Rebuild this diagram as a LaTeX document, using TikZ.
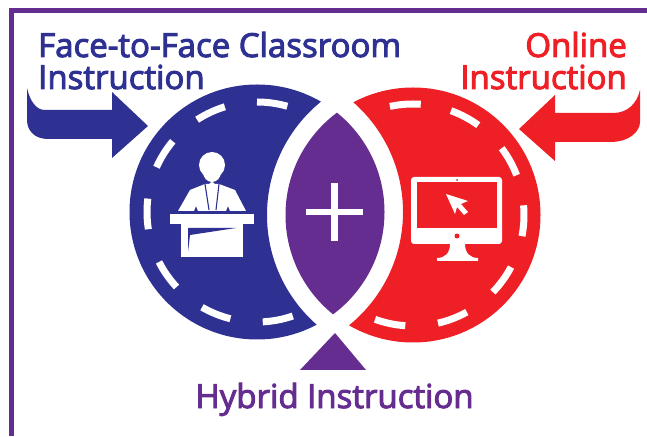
\documentclass[tikz,border=0pt]{standalone}
\usepackage{fontspec}
\newfontfamily\labelfont[FakeBold=3]{Open Sans}
\definecolor{faceblue}{HTML}{2E3192}
\definecolor{onlinered}{HTML}{EF1F26}
\definecolor{hybridpurple}{HTML}{662D91}
\tikzset{
  label text/.style={font=\labelfont\fontsize{33}{33}\selectfont, inner sep=0pt},
  dash arc/.style={draw=white, line width=7pt},
}
\begin{document}
\begin{tikzpicture}[x=1pt, y=1pt]
  \useasboundingbox (0,0) rectangle (647,436);

  % centres
  \coordinate (fc) at (257,224);
  \coordinate (oc) at (413,221);

  % frame
  \draw[hybridpurple, line width=5.5pt] (11.7,0) -- (11.7,425.3) -- (647,425.3);

  % discs
  \begin{scope}[even odd rule]
    \clip (0,0) rectangle (647,436) (oc) circle (146pt);
    \fill[faceblue] (fc) circle (127.5pt);
  \end{scope}
  \begin{scope}[even odd rule]
    \clip (0,0) rectangle (647,436) (fc) circle (146pt);
    \fill[onlinered] (oc) circle (127.5pt);
  \end{scope}
  \begin{scope}
    \clip (fc) circle (127.5pt);
    \fill[hybridpurple] (oc) circle (127.5pt);
  \end{scope}

  % dashes
  \foreach \a in {74,107,140,173,207,240,273}
    \draw[dash arc, shift={(fc)}] (\a:110pt) arc[start angle=\a, delta angle=16, radius=110pt];
  \foreach \a in {86,54,21,-11,-44,-77,-110}
    \draw[dash arc, shift={(oc)}] (\a:111pt) arc[start angle=\a, delta angle=16, radius=111pt];

  % plus
  \fill[white] (306,221) rectangle (363,227);
  \fill[white] (331,195) rectangle (338,253);

  % arrows
  \fill[faceblue] (27,348) .. controls (30,335) and (36,326) .. (45,326) -- (112,326) -- (112,344)
    -- (148,310) -- (112,278) -- (112,297) -- (48,297) .. controls (35,297) and (27,305) .. (27,316) -- cycle;
  \fill[onlinered] (640,346) .. controls (637,333) and (628,323) .. (613,323) -- (555,323) -- (555,341)
    -- (519,307) -- (555,275) -- (555,294) -- (610,294) .. controls (630,294) and (640,305) .. (640,314) -- cycle;
  \fill[hybridpurple] (335,103) -- (366,66) -- (300,66) -- cycle;

  % lecturer
  \fill[white] (212,271) circle (13pt);
  \fill[white] (212,264) ellipse (9pt and 10pt);
  \fill[white] (212,251) circle (3pt);
  \fill[white] (178,225) -- (190,246) -- (205,252) -- (219,252) -- (235,246) -- (246,225)
    -- (230,225) -- (228,230) -- (226,225) -- (198,225) -- (196,230) -- (194,225) -- cycle;
  \draw[faceblue, line width=1.1pt] (205,252) -- (209,226) (219,252) -- (216,226);
  \fill[white] (170,212) rectangle (254,222);
  \fill[white] (181,179) rectangle (243,212);
  \fill[faceblue] (188,208) -- (236,208) -- (190,201) -- (188,184) -- cycle;

  % monitor
  \fill[white, rounded corners=3pt] (411,192) rectangle (502,259);
  \fill[onlinered] (417,208) rectangle (497,254);
  \fill[onlinered] (457,256) circle (1pt);
  \fill[onlinered] (457,200) circle (2.5pt);
  \fill[white] (450,192) .. controls (450,183) and (445,178) .. (437,178) -- (437,175) -- (478,175) -- (478,178)
    .. controls (470,178) and (465,183) .. (465,192) -- cycle;
  \fill[white] (446,242) -- (455,222) -- (457,229) -- (464,221) -- (468,224) -- (461,232) -- (468,235) -- cycle;

  % labels
  \node[label text, faceblue, anchor=base west] (face1) at (38,379) {Face-to-Face Classroom};
  \node[label text, faceblue, anchor=base west] (face2) at (38,347) {Instruction};
  \node[label text, onlinered, anchor=base east] (online1) at (627,379) {Online};
  \node[label text, onlinered, anchor=base east] (online2) at (627,347) {Instruction};
  \node[label text, hybridpurple, anchor=base] (hybrid) at (334.5,28) {Hybrid Instruction};

\end{tikzpicture}
\end{document}
